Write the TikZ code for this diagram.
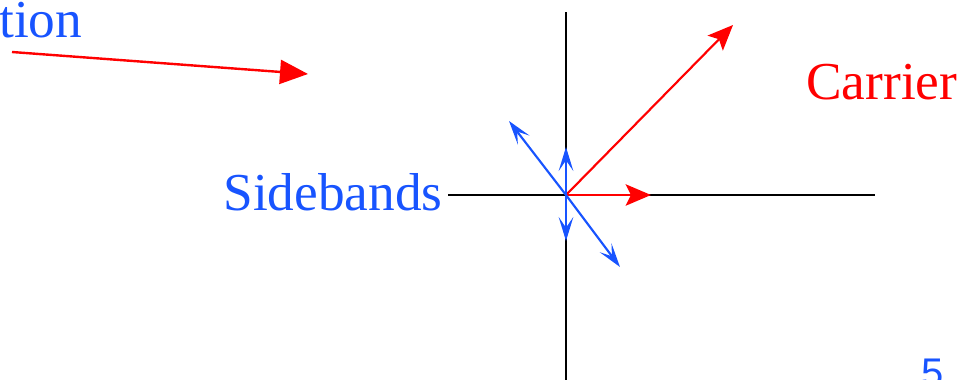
\documentclass[tikz,border=0pt]{standalone}
\usepackage{fontspec}
\setmainfont{Liberation Serif}
\newfontfamily\pagefont{Liberation Sans}
\usetikzlibrary{arrows.meta}
\definecolor{bandblue}{RGB}{24,84,255}
\definecolor{carrred}{RGB}{255,0,0}

\begin{document}
\begin{tikzpicture}[x=0.75pt, y=-0.75pt,
    every node/.style={font=\fontsize{40}{44}\selectfont, inner sep=0pt},
    axis/.style={black, line width=1.5pt},
    band/.style={bandblue, line width=1.6pt, -{Stealth[length=18pt, width=11pt, inset=8pt]}},
    carr/.style={carrred, line width=1.6pt, -{Stealth[length=19pt, width=16pt, inset=4pt]}}]
  \useasboundingbox (0,0) rectangle (972,379);
  % top left
  \node[bandblue, anchor=base west] (tion) at (-1,37) {tion};
  \coordinate (m0) at (12,52);
  \coordinate (m1) at (308,74);
  \draw[carrred, line width=1.8pt, -{Triangle[length=21pt, width=18pt]}] (m0) -- (m1);
  % axes
  \coordinate (O) at (566,195);
  \coordinate (xl) at (448,195);
  \coordinate (xr) at (875,195);
  \coordinate (yt) at (566,12);
  \coordinate (yb) at (566,385);
  \draw[axis] (xl) -- (xr);
  \draw[axis] (yt) -- (yb);
  % carrier
  \coordinate (c1) at (733,25);
  \coordinate (c2) at (651,195);
  \draw[carr] (O) -- (c1);
  \draw[carr, line width=2pt] (O) -- (c2);
  \node[carrred, anchor=base west] (carrier) at (806,99) {Carrier};
  % sidebands
  \coordinate (s1) at (566,147);
  \coordinate (s2) at (566,241);
  \coordinate (s3) at (509,121);
  \coordinate (s4) at (620,267);
  \foreach \t in {s1,s2,s3,s4}
    \draw[band] (O) -- (\t);
  \node[bandblue, anchor=base east] (sidebands) at (443,210) {Sidebands};
  % page number
  \node[bandblue, anchor=base west, font=\pagefont\fontsize{30}{34}\selectfont] (pg) at (921,386) {5};
\end{tikzpicture}
\end{document}
